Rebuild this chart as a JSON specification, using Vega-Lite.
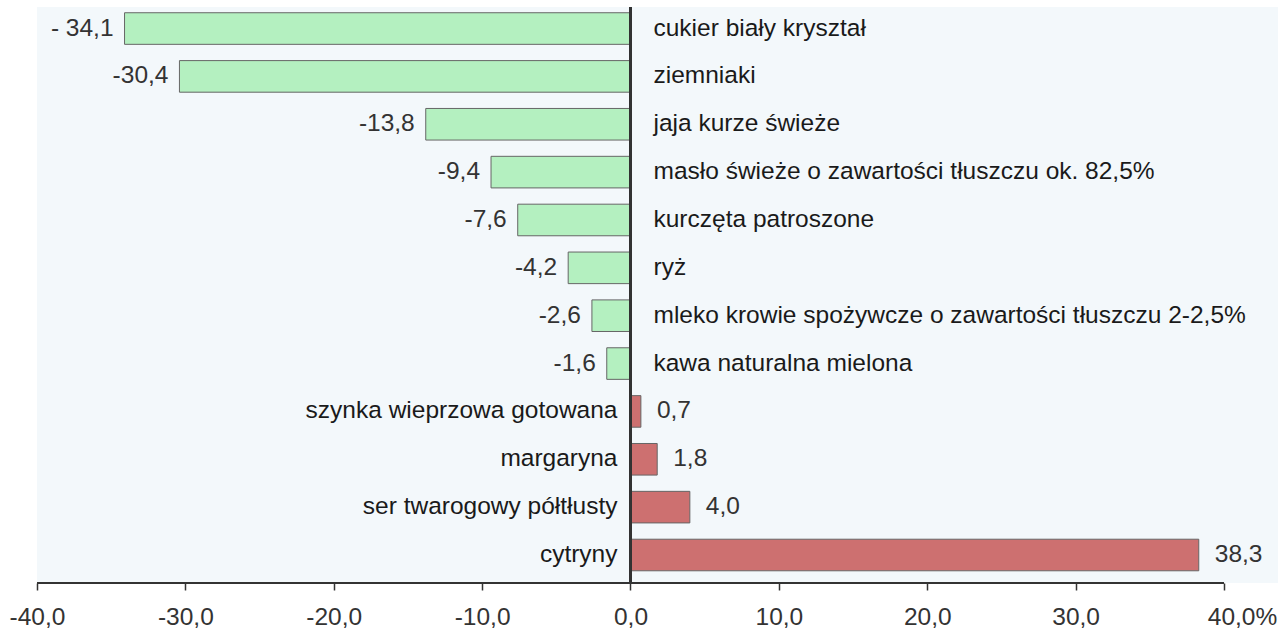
{
  "$schema": "https://vega.github.io/schema/vega-lite/v6.json",
  "width": 1241,
  "height": 576,
  "autosize": {"type": "none"},
  "padding": {"left": 37, "top": 7, "right": 1, "bottom": 47},
  "background": "white",
  "config": {
    "font": "Liberation Sans",
    "view": {"fill": "#f3f8fb", "stroke": null}
  },
  "data": {
    "values": [
      {"cat": "cukier biały kryształ", "value": -34.1, "label": "- 34,1"},
      {"cat": "ziemniaki", "value": -30.4, "label": "-30,4"},
      {"cat": "jaja kurze świeże", "value": -13.8, "label": "-13,8"},
      {"cat": "masło świeże o zawartości tłuszczu ok. 82,5%", "value": -9.4, "label": "-9,4"},
      {"cat": "kurczęta patroszone", "value": -7.6, "label": "-7,6"},
      {"cat": "ryż", "value": -4.2, "label": "-4,2"},
      {"cat": "mleko krowie spożywcze o zawartości tłuszczu 2-2,5%", "value": -2.6, "label": "-2,6"},
      {"cat": "kawa naturalna mielona", "value": -1.6, "label": "-1,6"},
      {"cat": "szynka wieprzowa gotowana", "value": 0.7, "label": "0,7"},
      {"cat": "margaryna", "value": 1.8, "label": "1,8"},
      {"cat": "ser twarogowy półtłusty", "value": 4.0, "label": "4,0"},
      {"cat": "cytryny", "value": 38.3, "label": "38,3"}
    ]
  },
  "encoding": {
    "y": {
      "field": "cat",
      "type": "nominal",
      "sort": null,
      "axis": null,
      "scale": {"paddingInner": 0.34, "paddingOuter": 0.1875, "align": 0.32}
    }
  },
  "layer": [
    {
      "mark": {"type": "bar", "stroke": "#666666", "strokeWidth": 1},
      "encoding": {
        "x": {
          "field": "value",
          "type": "quantitative",
          "scale": {"domain": [-40, 43.64], "nice": false, "zero": false},
          "axis": {
            "values": [-40, -30, -20, -10, 0, 10, 20, 30, 40],
            "title": null,
            "grid": false,
            "domain": false,
            "ticks": true,
            "tickColor": "#333333",
            "tickWidth": 1.5,
            "tickSize": 7,
            "labelFontSize": 24.5,
            "labelColor": "#333333",
            "labelPadding": 15,
            "labelFlush": false,
            "labelOverlap": false,
            "labelOffset": {"condition": {"test": "datum.value == 40", "value": 18}, "value": 0},
            "labelExpr": "replace(replace(format(datum.value, '.1f'), '.', ','), '\u2212', '-') + (datum.value == 40 ? '%' : '')"
          }
        },
        "x2": {"datum": 0},
        "color": {
          "condition": {"test": "datum.value < 0", "value": "#b4f0c0"},
          "value": "#cd7070"
        }
      }
    },
    {
      "mark": {"type": "rule", "color": "#333333", "strokeWidth": 2},
      "encoding": {"x": {"datum": 0}, "y": null}
    },
    {
      "mark": {"type": "rule", "color": "#333333", "strokeWidth": 2},
      "encoding": {"x": {"datum": -40}, "x2": {"datum": 40}, "y": {"value": "height"}}
    },
    {
      "transform": [{"filter": "datum.value < 0"}],
      "mark": {"type": "text", "align": "left", "baseline": "middle", "dx": 23, "fontSize": 24.5, "color": "#1a1a1a"},
      "encoding": {"x": {"datum": 0}, "text": {"field": "cat"}}
    },
    {
      "transform": [{"filter": "datum.value >= 0"}],
      "mark": {"type": "text", "align": "right", "baseline": "middle", "dx": -13, "fontSize": 24.5, "color": "#1a1a1a"},
      "encoding": {"x": {"datum": 0}, "text": {"field": "cat"}}
    },
    {
      "transform": [{"filter": "datum.value < 0"}],
      "mark": {"type": "text", "align": "right", "baseline": "middle", "dx": -11, "fontSize": 24.5, "color": "#333333"},
      "encoding": {"x": {"field": "value", "type": "quantitative"}, "text": {"field": "label"}}
    },
    {
      "transform": [{"filter": "datum.value >= 0"}],
      "mark": {"type": "text", "align": "left", "baseline": "middle", "dx": 16, "fontSize": 24.5, "color": "#333333"},
      "encoding": {"x": {"field": "value", "type": "quantitative"}, "text": {"field": "label"}}
    }
  ]
}
